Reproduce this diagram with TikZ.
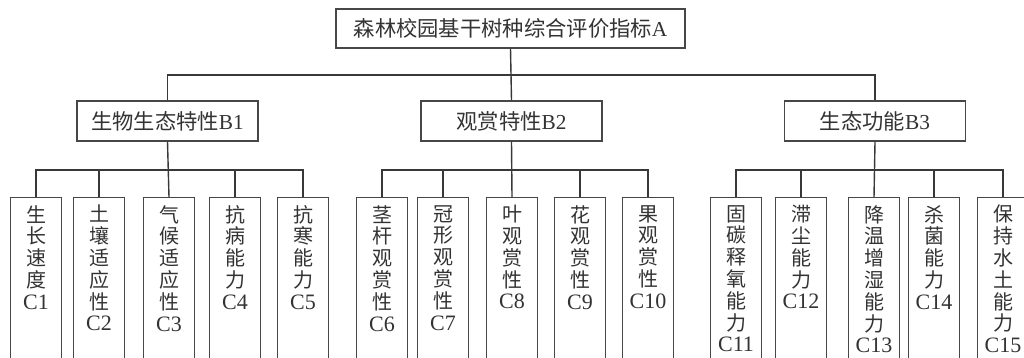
\documentclass[tikz,border=0pt]{standalone}
\usepackage{fontspec}
\setmainfont{Liberation Serif}
\newfontfamily\cjk{Noto Sans CJK SC}
\newcommand{\lat}[1]{\rmfamily\fontsize{22}{21.8}\selectfont #1}
\begin{document}
\begin{tikzpicture}[x=1pt,y=-1pt,
  box/.style={draw=black!72,line width=1.4pt,inner sep=0pt},
  topbox/.style={box,minimum width=349pt,minimum height=39pt},
  midbox/.style={box,minimum width=181pt,minimum height=40pt},
  cbox/.style={box,minimum width=51pt,minimum height=220pt,anchor=north},
  ctext/.style={inner sep=0pt,anchor=north,align=center,text=black!80,
    font=\cjk\fontsize{20}{21.8}\selectfont},
  htext/.style={inner sep=0pt,text=black!80,font=\fontsize{21.3}{22}\selectfont},
  link/.style={draw=black!78,line width=1.4pt}]
\useasboundingbox (0,0) rectangle (1024,358);
\clip (0,0) rectangle (1024,358);
\fill[white] (0,0) rectangle (1024,358);
% top
\node[topbox] (a) at (510.5,28.5) {};
\node[htext] (ta) at (a.center) {{\cjk 森林校园基干树种综合评价指标}A};
% middle
\node[midbox] (b1) at (167.5,121) {};
\node[midbox] (b2) at (511.5,121) {};
\node[midbox] (b3) at (875,121) {};
\node[htext] (tb1) at (b1.center) {{\cjk 生物生态特性}B1};
\node[htext] (tb2) at (b2.center) {{\cjk 观赏特性}B2};
\node[htext] (tb3) at (b3.center) {{\cjk 生态功能}B3};
\coordinate (h0) at (0,75);
\draw[link] (a.south) -- (b2.north);
\draw[link] (b1.north) -- (b1.north |- h0) -- (b3.north |- h0) -- (b3.north);
% leaves
\foreach \n/\x in {1/36,2/99,3/169,4/235,5/303,6/382,7/443,8/512,9/580,10/648,11/736,12/801,13/874,14/934,15/1003}
  \node[cbox] (c\n) at (\x,197) {};
\node[ctext] (t1) at ([yshift=-8pt]c1.north) {生\\长\\速\\度\\\lat{C1}};
\node[ctext] (t2) at ([yshift=-8pt]c2.north) {土\\壤\\适\\应\\性\\\lat{C2}};
\node[ctext] (t3) at ([yshift=-8pt]c3.north) {气\\候\\适\\应\\性\\\lat{C3}};
\node[ctext] (t4) at ([yshift=-8pt]c4.north) {抗\\病\\能\\力\\\lat{C4}};
\node[ctext] (t5) at ([yshift=-8pt]c5.north) {抗\\寒\\能\\力\\\lat{C5}};
\node[ctext] (t6) at ([yshift=-8pt]c6.north) {茎\\杆\\观\\赏\\性\\\lat{C6}};
\node[ctext] (t7) at ([yshift=-8pt]c7.north) {冠\\形\\观\\赏\\性\\\lat{C7}};
\node[ctext] (t8) at ([yshift=-8pt]c8.north) {叶\\观\\赏\\性\\\lat{C8}};
\node[ctext] (t9) at ([yshift=-8pt]c9.north) {花\\观\\赏\\性\\\lat{C9}};
\node[ctext] (t10) at ([yshift=-8pt]c10.north) {果\\观\\赏\\性\\\lat{C10}};
\node[ctext] (t11) at ([yshift=-8pt]c11.north) {固\\碳\\释\\氧\\能\\力\\\lat{C11}};
\node[ctext] (t12) at ([yshift=-8pt]c12.north) {滞\\尘\\能\\力\\\lat{C12}};
\node[ctext] (t13) at ([yshift=-8pt]c13.north) {降\\温\\增\\湿\\能\\力\\\lat{C13}};
\node[ctext] (t14) at ([yshift=-8pt]c14.north) {杀\\菌\\能\\力\\\lat{C14}};
\node[ctext] (t15) at ([yshift=-8pt]c15.north) {保\\持\\水\\土\\能\\力\\\lat{C15}};
\coordinate (h1) at (0,170);
\draw[link] (b1.south) -- (c3.north);
\draw[link] (c1.north) -- (c1.north |- h1) -- (c5.north |- h1) -- (c5.north);
\draw[link] (c2.north) -- (c2.north |- h1);
\draw[link] (c4.north) -- (c4.north |- h1);
\draw[link] (b2.south) -- (c8.north);
\draw[link] (c6.north) -- (c6.north |- h1) -- (c10.north |- h1) -- (c10.north);
\draw[link] (c7.north) -- (c7.north |- h1);
\draw[link] (c9.north) -- (c9.north |- h1);
\draw[link] (b3.south) -- (c13.north);
\draw[link] (c11.north) -- (c11.north |- h1) -- (c15.north |- h1) -- (c15.north);
\draw[link] (c12.north) -- (c12.north |- h1);
\draw[link] (c14.north) -- (c14.north |- h1);
\end{tikzpicture}
\end{document}
